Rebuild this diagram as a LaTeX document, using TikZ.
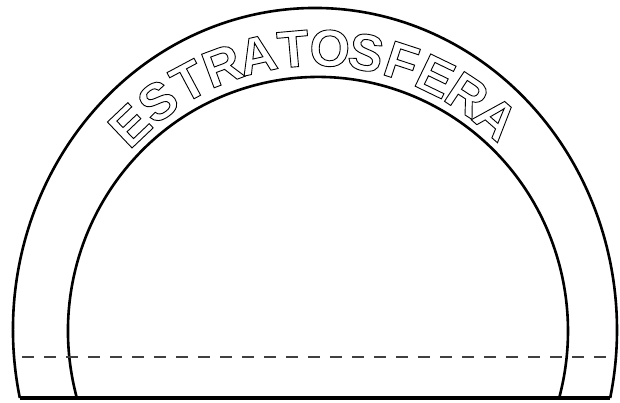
\documentclass[tikz,border=0pt]{standalone}
\usepackage{fontspec}
\usepackage{tikz}
\newfontfamily\archfont{Liberation Sans}
% hollow letters: stroke the glyph outline only
\newcommand{\hollow}[1]{\special{pdf:literal direct 1 Tr 0.9 w}#1\special{pdf:literal direct 0 Tr}}
\tikzset{
	archline/.style ={line width=2.6pt, black},
	groundline/.style={line width=3.2pt, black},
	cutline/.style  ={line width=2.2pt, black!75, dash pattern=on 12pt off 10pt},
	letter/.style   ={font=\archfont\bfseries\fontsize{52}{52}\selectfont, inner sep=0pt},
}
\begin{document}
\begin{tikzpicture}[x=1pt, y=1pt]
	\useasboundingbox (0,0) rectangle (620,403);
	% outer arch
	\draw[archline] ({315+302*cos(192.2)},5) arc[start angle=192.2, end angle=-12.2, x radius=302, y radius=322];
	% inner arch
	\draw[archline] ({318+250*cos(195.3)},5) arc[start angle=195.3, end angle=-15.3, x radius=250, y radius=254];
	% ground
	\draw[groundline] (19.8,5) -- (610.2,5);
	% fold line
	\draw[cutline] (22,46) -- (616,46);
	% label along the band
	\foreach \ch [count=\i] in {E,S,T,R,A,T,O,S,F,E,R,A} {
		\pgfmathsetmacro\ang{133.5-7.7*(\i-1)}
		\node[letter, rotate=\ang-90] (l\i) at ({317+272*cos(\ang)},{73+282*sin(\ang)}) {\hollow{\ch}};
	}
\end{tikzpicture}
\end{document}
